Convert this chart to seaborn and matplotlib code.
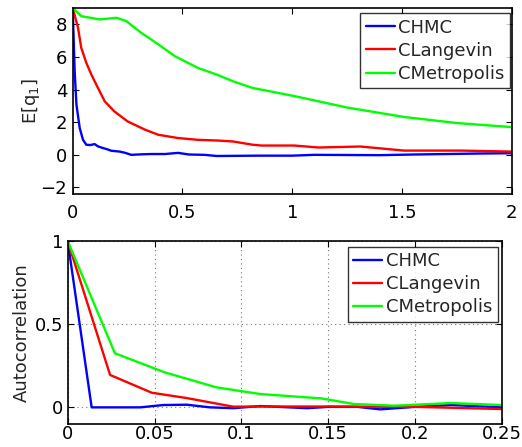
import numpy as np
import pandas as pd
import matplotlib
matplotlib.use("Agg")
import matplotlib.pyplot as plt
import seaborn as sns

# ---- top panel data: E[q1] vs time ----
t_chmc = [0, 0.009, 0.017, 0.032, 0.047, 0.062, 0.08, 0.1, 0.115, 0.13, 0.155, 0.176, 0.214,
          0.24, 0.267, 0.31, 0.358, 0.42, 0.48, 0.53, 0.6, 0.656, 0.75, 0.85, 1.0, 1.1,
          1.25, 1.4, 1.55, 1.7, 1.85, 2.0]
q_chmc = [9, 5.1, 3.08, 1.64, 0.92, 0.62, 0.6, 0.66, 0.52, 0.45, 0.35, 0.25, 0.2,
          0.12, 0.0, 0.03, 0.05, 0.05, 0.12, 0.02, 0.0, -0.07, -0.06, -0.05, -0.05, 0.0,
          -0.01, -0.02, 0.02, 0.05, 0.08, 0.1]

t_clang = [0, 0.024, 0.039, 0.062, 0.085, 0.115, 0.146, 0.19, 0.25, 0.33, 0.39, 0.48, 0.57,
           0.656, 0.73, 0.82, 0.86, 1.01, 1.12, 1.31, 1.51, 1.77, 2.0]
q_clang = [9, 7.8, 6.56, 5.64, 4.92, 4.1, 3.28, 2.66, 2.05, 1.54, 1.23, 1.03, 0.92,
           0.88, 0.82, 0.62, 0.57, 0.57, 0.45, 0.51, 0.26, 0.26, 0.2]

t_cmet = [0, 0.039, 0.123, 0.2, 0.244, 0.31, 0.39, 0.465, 0.57, 0.656, 0.73, 0.82, 1.01,
          1.25, 1.51, 1.75, 2.0]
q_cmet = [9, 8.5, 8.3, 8.4, 8.2, 7.5, 6.77, 6.05, 5.33, 4.92, 4.51, 4.1, 3.6,
          2.9, 2.32, 1.95, 1.7]

# ---- bottom panel data: autocorrelation vs lag ----
lag_chmc = [0, 0.0138, 0.0417, 0.055, 0.0685, 0.082, 0.0954, 0.111, 0.138, 0.15, 0.167,
            0.18, 0.20, 0.221, 0.25]
ac_chmc = [1, 0.0, 0.0, 0.014, 0.016, 0.0, -0.005, 0.008, -0.005, 0.003, 0.003,
           -0.012, 0.003, 0.014, 0.0]

lag_clang = [0, 0.0244, 0.0484, 0.0685, 0.0954, 0.11, 0.15, 0.2, 0.25]
ac_clang = [1, 0.195, 0.088, 0.056, 0.004, 0.005, 0.005, 0.003, -0.01]

lag_cmet = [0, 0.0272, 0.056, 0.0858, 0.111, 0.146, 0.165, 0.188, 0.221, 0.25]
ac_cmet = [1, 0.325, 0.21, 0.12, 0.08, 0.054, 0.02, 0.01, 0.026, 0.014]

labels = ["CHMC", "CLangevin", "CMetropolis"]
colors = ["#0000ff", "#ff0000", "#00ff00"]

top_xticks = [0, 0.5, 1, 1.5, 2]
top_xlabels = ["0", "0.5", "1", "1.5", "2"]
top_yticks = [-2, 0, 2, 4, 6, 8]
top_ylabels = ["\u22122", "0", "2", "4", "6", "8"]
bot_xticks = [0, 0.05, 0.1, 0.15, 0.2, 0.25]
bot_xlabels = ["0", "0.05", "0.1", "0.15", "0.2", "0.25"]
bot_yticks = [0, 0.5, 1]
bot_ylabels = ["0", "0.5", "1"]

sns.set_theme(style="white")
plt.rcParams['font.family'] = ['DejaVu Sans']
plt.rcParams['mathtext.default'] = 'regular'

W, H = 522, 447
fig = plt.figure(figsize=(W / 100, H / 100), dpi=100)
ax1 = fig.add_axes([72.7 / W, 1 - 194 / H, 439 / W, 186 / H])
ax2 = fig.add_axes([67.7 / W, 1 - 424 / H, 434 / W, 183 / H])

FS = 13
top_series = [(t_chmc, q_chmc), (t_clang, q_clang), (t_cmet, q_cmet)]
for (x, y), lab, c in zip(top_series, labels, colors):
    sns.lineplot(x=x, y=y, ax=ax1, color=c, label=lab, linewidth=1.7,
                 estimator=None, sort=False)

bot_series = [(lag_chmc, ac_chmc), (lag_clang, ac_clang), (lag_cmet, ac_cmet)]
for (x, y), lab, c in zip(bot_series, labels, colors):
    sns.lineplot(x=x, y=y, ax=ax2, color=c, label=lab, linewidth=1.7,
                 estimator=None, sort=False)

ax1.set_xlim(0, 2)
ax1.set_ylim(-2.4, 9)
ax1.set_xticks(top_xticks)
ax1.set_xticklabels(top_xlabels)
ax1.set_yticks(top_yticks)
ax1.set_yticklabels(top_ylabels)
ax1.set_ylabel("E[q$_1$]", fontsize=FS)
ax1.yaxis.set_label_coords((42 - 72.7) / 439, 0.5)

ax2.set_xlim(0, 0.25)
ax2.set_ylim(-0.1, 1)
ax2.set_xticks(bot_xticks)
ax2.set_xticklabels(bot_xlabels)
ax2.set_yticks(bot_yticks)
ax2.set_yticklabels(bot_ylabels)
ax2.set_ylabel("Autocorrelation", fontsize=FS)
ax2.yaxis.set_label_coords((31 - 67.7) / 434, 0.5)
ax2.grid(True, linestyle=(0, (1, 3)), color="#777777", linewidth=0.8)

legend_anchor = {ax1: (510 / W, 1 - 13.3 / H), ax2: (497.7 / W, 1 - 246.7 / H)}
xpads = {ax1: 7, ax2: 1}
ypads = {ax1: 4, ax2: 3}

for ax in (ax1, ax2):
    ax.set_xlabel("")
    for s in ax.spines.values():
        s.set_visible(True)
        s.set_color("black")
        s.set_linewidth(1.2)
    ax.tick_params(direction="in", length=4, width=0.8, top=True, right=True,
                   bottom=True, left=True, labelsize=FS, colors="black")
    ax.tick_params(axis="x", pad=xpads[ax])
    ax.tick_params(axis="y", pad=ypads[ax])
    ax.set_facecolor("white")
    leg = ax.legend(loc="upper right", bbox_to_anchor=legend_anchor[ax],
                    bbox_transform=fig.transFigure, fontsize=FS, frameon=True,
                    fancybox=False, borderaxespad=0, handlelength=1.6,
                    handletextpad=0.2, labelspacing=0.28, borderpad=0.3)
    leg.get_frame().set_edgecolor("black")
    leg.get_frame().set_linewidth(1.0)

fig.savefig("out.png", dpi=100, facecolor="white")
